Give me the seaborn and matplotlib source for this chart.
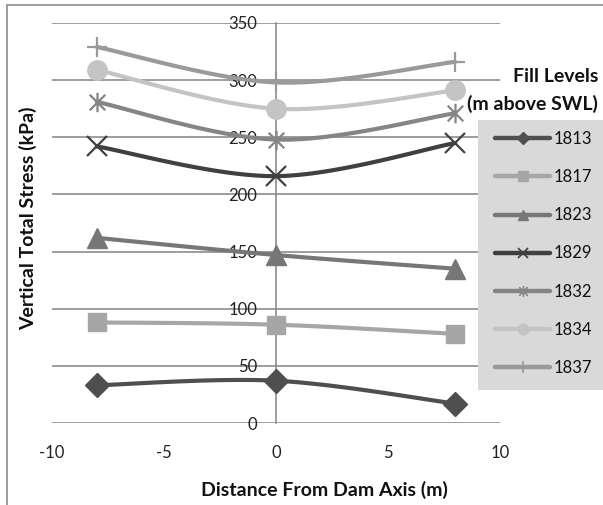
import numpy as np
import pandas as pd
import matplotlib
matplotlib.use("Agg")
import matplotlib.pyplot as plt
import seaborn as sns
from matplotlib.path import Path
from matplotlib.lines import Line2D
from matplotlib.patches import Rectangle

# ---- data ----
distance = [-8, 0, 8]
fill_levels = ["1813", "1817", "1823", "1829", "1832", "1834", "1837"]
s1813 = [33, 37, 17]
s1817 = [88, 86, 78]
s1823 = [162, 147, 135]
s1829 = [242, 216, 245]
s1832 = [281, 248, 271]
s1834 = [309, 275, 291]
s1837 = [329, 298, 316]
series_values = [s1813, s1817, s1823, s1829, s1832, s1834, s1837]
y_ticks = [0, 50, 100, 150, 200, 250, 300, 350]
x_ticks = [-10, -5, 0, 5, 10]

# ---- style ----
colors = ["#4f4f4f", "#a6a6a6", "#777777", "#404040", "#858585", "#c4c4c4", "#9a9a9a"]
asterisk = Path([(-1, -1), (1, 1), (-1, 1), (1, -1), (0, -1.25), (0, 1.25)],
                [Path.MOVETO, Path.LINETO, Path.MOVETO, Path.LINETO, Path.MOVETO, Path.LINETO])
markers = ["D", "s", "^", "x", asterisk, "o", "+"]
msizes = [12, 13, 14, 14, 14, 14, 15]
filled = [True, True, True, False, False, True, False]

sns.set_theme(style="white")
plt.rcParams["font.family"] = ["Lato", "DejaVu Sans"]
plt.rcParams["axes.unicode_minus"] = False


def excel_smooth(xs, ys, n=40):
    P = np.column_stack([xs, ys]).astype(float)
    pts = []
    for i in range(len(P) - 1):
        prev = P[i - 1] if i > 0 else P[i]
        nxt = P[i + 2] if i + 2 < len(P) else P[i + 1]
        c1 = P[i] + (P[i + 1] - prev) / 6
        c2 = P[i + 1] - (nxt - P[i]) / 6
        t = np.linspace(0, 1, n)[:, None]
        seg = (1 - t) ** 3 * P[i] + 3 * (1 - t) ** 2 * t * c1 + 3 * (1 - t) * t ** 2 * c2 + t ** 3 * P[i + 1]
        pts.append(seg if i == 0 else seg[1:])
    return np.vstack(pts)


frames = []
for lvl, vals in zip(fill_levels, series_values):
    c = excel_smooth(distance, vals)
    frames.append(pd.DataFrame({"x": c[:, 0], "y": c[:, 1], "level": lvl, "order": np.arange(len(c))}))
curve_df = pd.concat(frames, ignore_index=True)

fig = plt.figure(figsize=(6.03, 5.05), dpi=100)
ax = fig.add_axes([52 / 603, 1 - 423 / 505, (500 - 52) / 603, (423 - 23) / 505])

gray = "#8c8c8c"
ax.set_xlim(-10, 10)
ax.set_ylim(0, 350)
ax.set_yticks(y_ticks)
ax.set_xticks(x_ticks)
ax.yaxis.grid(True, color=gray, lw=1.2)
ax.xaxis.grid(False)
for gl in ax.get_ygridlines():
    gl.set_clip_on(False)
for side in ["top", "right", "bottom"]:
    ax.spines[side].set_visible(False)
ax.spines["left"].set_position(("data", 0))
ax.spines["left"].set_color(gray)
ax.spines["left"].set_linewidth(1.2)
ax.tick_params(axis="y", length=0, pad=13.5, labelsize=12, colors="#222222")
ax.tick_params(axis="x", length=0, pad=15.5, labelsize=12, colors="#222222")

for i, (lvl, vals) in enumerate(zip(fill_levels, series_values)):
    sub = curve_df[curve_df["level"] == lvl]
    sns.lineplot(data=sub, x="x", y="y", sort=False, estimator=None, color=colors[i],
                 lw=3, ax=ax, legend=False, zorder=3 + i, solid_capstyle="round")
    if filled[i]:
        ax.plot(distance, vals, ls="none", marker=markers[i], ms=msizes[i], color=colors[i],
                mec=colors[i], zorder=3.5 + i, clip_on=False)
    else:
        ax.plot(distance, vals, ls="none", marker=markers[i], ms=msizes[i], color=colors[i],
                mew=1.6, zorder=3.5 + i, clip_on=False)

ax.set_xlabel("")
ax.set_ylabel("")

# axis titles
fig.text(28 / 603, 1 - 218 / 505, "Vertical Total Stress (kPa)", rotation=90, ha="center",
         va="center", fontsize=14, fontweight="bold", color="#111111")
fig.text(324 / 603, 1 - 490 / 505, "Distance From Dam Axis (m)", ha="center", va="center",
         fontsize=14, fontweight="bold", color="#111111")

# legend box
fig.patches.append(Rectangle((478 / 603, 1 - 390 / 505), 130 / 603, 270 / 505,
                             transform=fig.transFigure, facecolor="#d9d9d9", edgecolor="none", zorder=0))
fig.text(598 / 603, 1 - 76 / 505, "Fill Levels", ha="right", va="center", fontsize=14,
         fontweight="bold", color="#111111")
fig.text(598 / 603, 1 - 104 / 505, "(m above SWL)", ha="right", va="center", fontsize=14,
         fontweight="bold", color="#111111")

handles = []
for i in range(len(fill_levels)):
    if filled[i]:
        h = Line2D([], [], color=colors[i], lw=3.2, marker=markers[i], ms=msizes[i] * 0.55,
                   solid_capstyle="round")
    else:
        h = Line2D([], [], color=colors[i], lw=3.2, marker=markers[i], ms=msizes[i] * 0.55, mew=1.2,
                   solid_capstyle="round")
    handles.append(h)
leg = fig.legend(handles, fill_levels, loc="upper left", bbox_to_anchor=(495 / 603, 1 - 131 / 505),
                 frameon=False, fontsize=12, handlelength=3.3, handletextpad=0.2,
                 labelspacing=1.33, borderpad=0, borderaxespad=0)
for t in leg.get_texts():
    t.set_color("#111111")

# figure frame (left and top edges)
fig.add_artist(Line2D([7 / 603, 7 / 603], [0, 1 - 5 / 505], transform=fig.transFigure, color=gray, lw=1.2))
fig.add_artist(Line2D([7 / 603, 1], [1 - 5 / 505, 1 - 5 / 505], transform=fig.transFigure, color=gray, lw=1.2))

fig.savefig("out.png", dpi=100)
